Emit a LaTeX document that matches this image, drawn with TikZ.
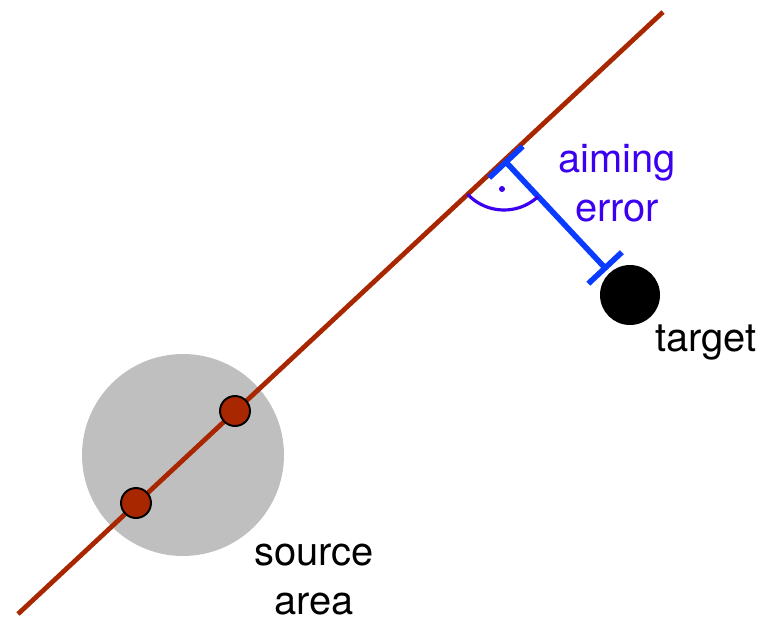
\documentclass[tikz,border=0pt]{standalone}
\usepackage{fontspec}
\setmainfont{TeX Gyre Heros}
\usetikzlibrary{arrows.meta,angles}
\definecolor{raycol}{RGB}{168,38,0}
\definecolor{errcol}{RGB}{10,60,255}
\definecolor{aimcol}{RGB}{60,0,240}

\begin{document}
\begin{tikzpicture}[x=0.02cm, y=-0.02cm,
  every node/.style={font=\fontsize{22.7}{27.9}\selectfont, inner sep=0pt},
  ray/.style={raycol, line width=2.7pt},
  srcdot/.style={circle, draw=black, line width=1.1pt, fill=raycol, minimum size=0.6cm},
  err/.style={errcol, line width=3.2pt, {Bar[width=0.92cm]}-{Bar[width=0.92cm]}}]
\useasboundingbox (0,0) rectangle (767,623);

% source area and the ray through it
\node[circle, fill=black!25, minimum size=4.04cm] (area) at (183,455) {};
\coordinate (lo) at (18,614);
\coordinate (hi) at (663,12);
\draw[ray] (lo) -- (hi);
\node[srcdot] (src1) at (136,503) {};
\node[srcdot] (src2) at (235,411) {};

% aiming error
\coordinate (foot) at (504,160);
\coordinate (aimend) at (607,270);
\node[circle, fill=black, minimum size=1.2cm] (target) at (630,295) {};
\draw[err] (foot) -- (aimend);
\pic[draw=aimcol, line width=1.8pt, angle radius=1cm] {angle=lo--foot--aimend};
\fill[aimcol] (502,189) circle (0.06cm);

\node[aimcol, align=center] (aimlbl) at (617,183) {aiming\\error};
\node (tgtlbl) at (706,343) {target};
\node[align=center] (srclbl) at (314,580) {source\\area};
\end{tikzpicture}
\end{document}
